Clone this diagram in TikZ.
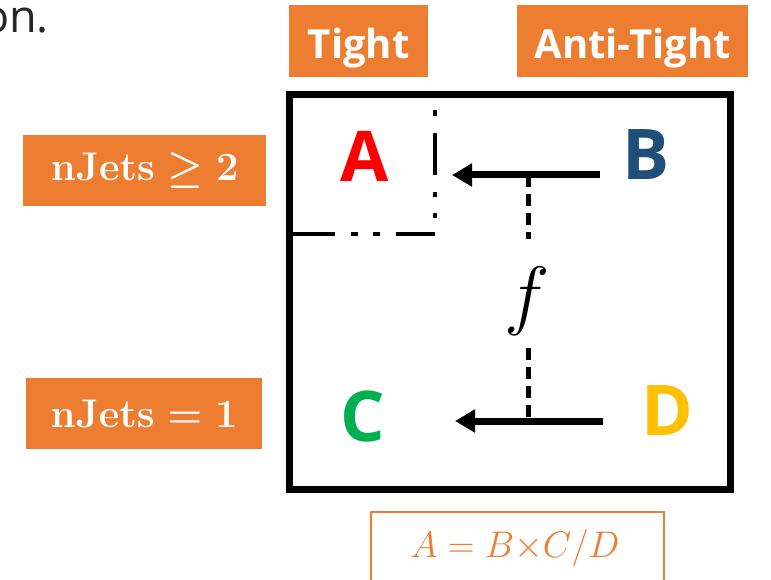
\RequirePackage{fix-cm}
\documentclass[tikz,border=0pt]{standalone}
\usepackage{amsmath}
\usepackage{fontspec}
\newfontfamily\opensans{Open Sans}
\usetikzlibrary{arrows.meta}
\definecolor{boxorange}{HTML}{ED7D31}
\definecolor{letterred}{HTML}{FF0000}
\definecolor{letterblue}{HTML}{1F4E79}
\definecolor{lettergreen}{HTML}{00B050}
\definecolor{lettergold}{HTML}{FFC000}
\tikzset{
  headbox/.style={fill=boxorange, text=white, inner sep=0pt, anchor=north west,
    text height=37pt, text depth=3pt, minimum height=72pt,
    font=\opensans\bfseries\fontsize{40}{42}\selectfont},
  sidebox/.style={fill=boxorange, text=white, inner sep=0pt, anchor=north west,
    font=\bfseries\boldmath\fontsize{40}{44}\selectfont},
  region/.style={inner sep=0pt, anchor=base, font=\opensans\bfseries\fontsize{70}{72}\selectfont},
  boundary/.style={line width=4.5pt, line cap=butt},
  transfer/.style={line width=7pt, -{Triangle[length=20pt,width=22pt]}},
  link/.style={line width=5pt, dash pattern=on 12pt off 7pt},
}
\begin{document}
\begin{tikzpicture}[x=1pt, y=-1pt]
\useasboundingbox (0,0) rectangle (771,580);
\clip (0,0) rectangle (771,580);

% tail of the preceding sentence
\node[anchor=base east, inner sep=0pt, text=black!85,
  font=\opensans\fontsize{45}{48}\selectfont] (prev) at (49,33) {on.};

% column headers
\node[headbox, minimum width=139pt] (tight) at (289,5) {Tight};
\node[headbox, minimum width=231pt] (anti) at (517,5) {Anti-Tight};

% row headers
\node[sidebox, minimum width=243pt, minimum height=71pt] (row2) at (23,135)
  {$\mathbf{nJets}\geq\mathbf{2}$};
\node[sidebox, minimum width=236pt, minimum height=71pt] (row1) at (26,378)
  {$\mathbf{nJets}=\mathbf{1}$};

% outer frame
\draw[line width=7pt] (289.5,95) rectangle (730.5,489);

% signal region boundary (dash-dot-dot)
\draw[boundary, dash pattern=on 42pt off 16pt on 7pt off 15pt on 7pt off 16pt on 42pt]
  (293,234) -- (435,234);
\draw[boundary, dash pattern=on 6pt off 17pt on 42pt off 17pt on 5pt off 16pt on 5pt]
  (435,110) -- (435,218);

% region letters
\node[region, text=letterred]   (A) at (365,182) {A};
\node[region, text=letterblue]  (B) at (646,180) {B};
\node[region, text=lettergreen] (C) at (363,441) {C};
\node[region, text=lettergold]  (D) at (667,435) {D};

% transfer factor
\node[inner sep=0pt, font=\fontsize{77}{80}\selectfont] (f) at (527,301) {$f$};

% arrows and their junctions
\coordinate (bstart) at (600,175);
\coordinate (aend) at (452,175);
\coordinate (dstart) at (603,421);
\coordinate (cend) at (455,421);
\coordinate (jtop) at (528,175);
\coordinate (jbot) at (528,421);
\coordinate (ftop) at (528,239);
\coordinate (fbot) at (528,348);

\draw[transfer] (bstart) -- (aend);
\draw[transfer] (dstart) -- (cend);
\draw[link] (jtop) -- (ftop);
\draw[link] (fbot) -- (jbot);

% formula
\draw[boxorange, line width=2pt] (371,512) rectangle (664,600);
\node[inner sep=0pt, text=boxorange, font=\fontsize{37}{40}\selectfont] (eq) at (515,548)
  {$A = B{\times}C/D$};
\end{tikzpicture}
\end{document}
